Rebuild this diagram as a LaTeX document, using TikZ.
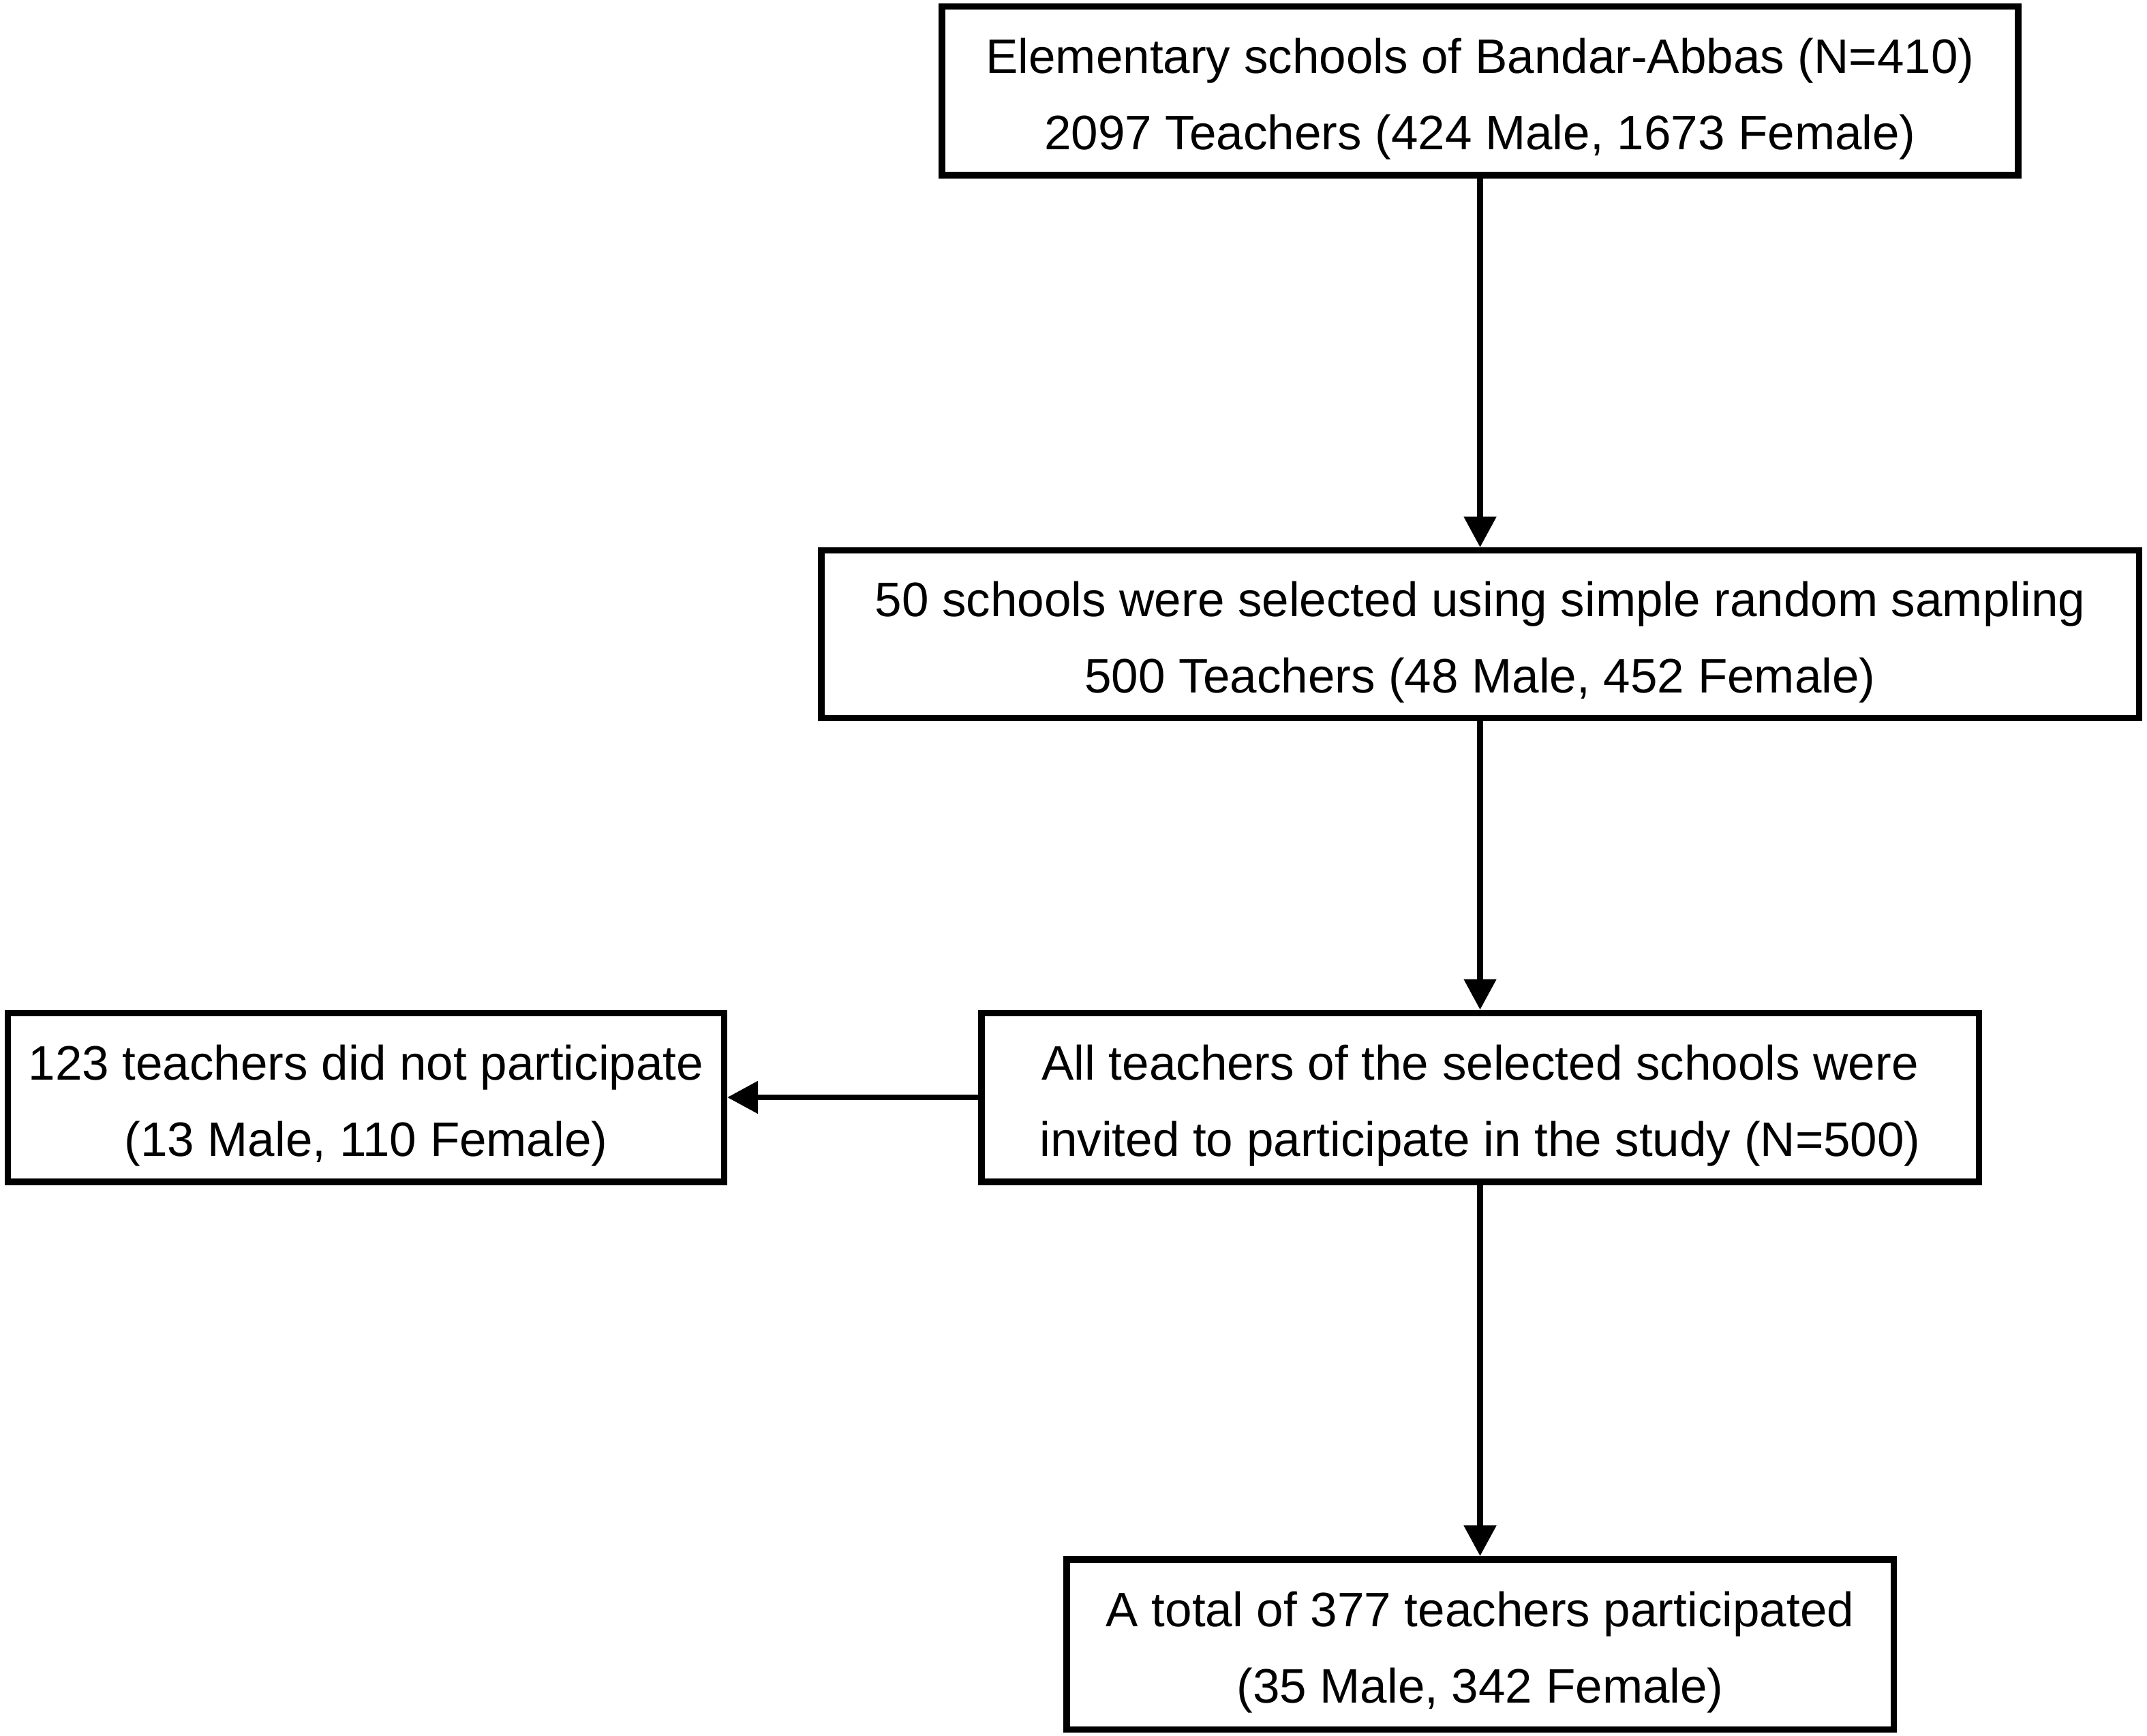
\documentclass[tikz,border=0pt]{standalone}
\usepackage{fontspec}
\setmainfont{Liberation Sans}
\usetikzlibrary{arrows.meta}
\newcommand{\tstrut}{\rule{0pt}{0.75cm}}
\begin{document}
\begin{tikzpicture}[
  box/.style={draw=black, line width=0.095cm, fill=white, inner sep=0pt, align=center,
    font=\fontsize{20.2pt}{31.9pt}\selectfont},
  arr/.style={line width=0.085cm, -{Triangle[length=0.45cm, width=0.46cm]}}
]
\useasboundingbox (0,0) rectangle (31.5,-25.47);
\fill[white] (0,0) rectangle (31.5,-25.47);
\node[box, minimum width=15.79cm, minimum height=2.475cm] (top) at (21.715,-1.335)
  {\tstrut Elementary schools of Bandar-Abbas (N=410)\\2097 Teachers (424 Male, 1673 Female)};
\node[box, minimum width=19.335cm, minimum height=2.455cm] (sel) at (21.715,-9.305)
  {\tstrut 50 schools were selected using simple random sampling\\500 Teachers (48 Male, 452 Female)};
\node[box, minimum width=14.635cm, minimum height=2.475cm] (inv) at (21.715,-16.1)
  {\tstrut All teachers of the selected schools were\\invited to participate in the study (N=500)};
\node[box, minimum width=10.505cm, minimum height=2.475cm] (no) at (5.37,-16.1)
  {\tstrut 123 teachers did not participate\\(13 Male, 110 Female)};
\node[box, minimum width=12.135cm, minimum height=2.495cm] (tot) at (21.715,-24.125)
  {\tstrut A total of 377 teachers participated\\(35 Male, 342 Female)};
\draw[arr] (top) -- (sel);
\draw[arr] (sel) -- (inv);
\draw[arr] (inv) -- (tot);
\draw[arr] (inv.west) -- (no.east);
\end{tikzpicture}
\end{document}
